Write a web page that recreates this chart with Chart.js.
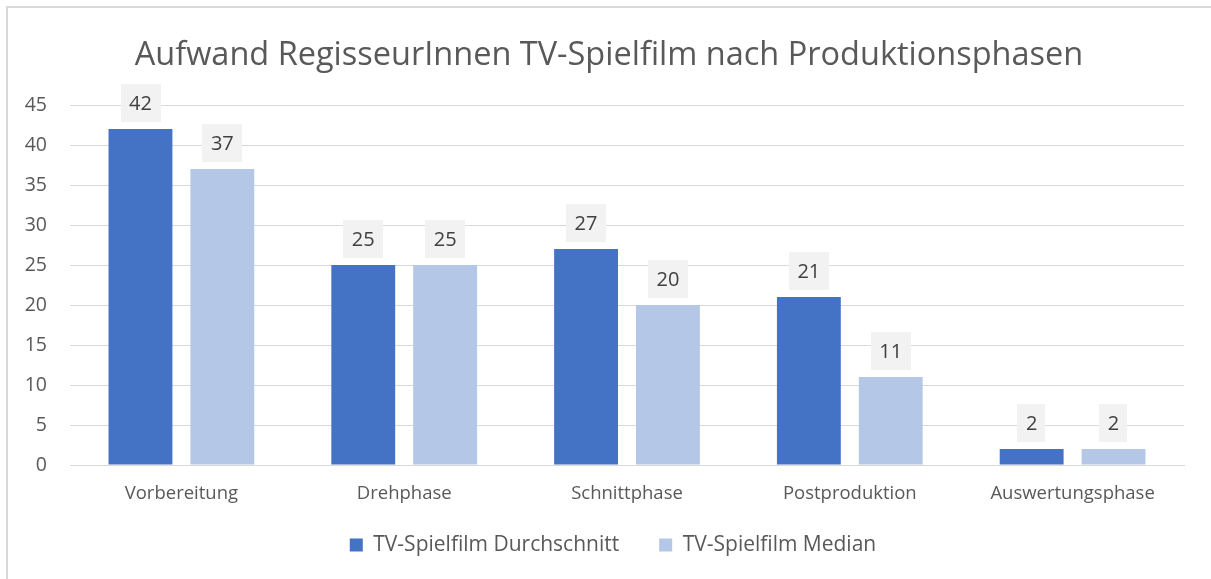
<!DOCTYPE html>
<html>
<head>
<meta charset="utf-8">
<script src="https://cdn.jsdelivr.net/npm/chart.js@4.4.1/dist/chart.umd.min.js"></script>
<style>
  html, body { margin: 0; padding: 0; background: #ffffff; }
  #wrap { position: relative; width: 1211px; height: 579px; overflow: hidden; }
  #frame { position: absolute; left: 6px; top: 6px; width: 1220px; height: 600px; border: 2px solid #d9d9d9; box-sizing: border-box; }
  #box { position: absolute; left: 0; top: 0; width: 1211px; height: 579px; }
</style>
</head>
<body>
<div id="wrap">
  <div id="frame"></div>
  <div id="box"><canvas id="c"></canvas></div>
</div>
<script>
const chartTitle = 'Aufwand RegisseurInnen TV-Spielfilm nach Produktionsphasen';
const categories = ['Vorbereitung', 'Drehphase', 'Schnittphase', 'Postproduktion', 'Auswertungsphase'];
const seriesNames = ['TV-Spielfilm Durchschnitt', 'TV-Spielfilm Median'];
const durchschnitt = [42, 25, 27, 21, 2];
const median = [37, 25, 20, 11, 2];
const yTicks = [0, 5, 10, 15, 20, 25, 30, 35, 40, 45];

const FONT = '"Open Sans", sans-serif';

const dataLabels = {
  id: 'dataLabels',
  afterDatasetsDraw(chart) {
    const ctx = chart.ctx;
    ctx.save();
    ctx.font = '20px ' + FONT;
    ctx.textAlign = 'center';
    ctx.textBaseline = 'middle';
    chart.data.datasets.forEach((ds, i) => {
      const meta = chart.getDatasetMeta(i);
      meta.data.forEach((bar, j) => {
        const txt = String(ds.data[j]);
        const w = ctx.measureText(txt).width + 17;
        const h = 38;
        const bottom = bar.y - 7;
        ctx.fillStyle = '#f2f2f2';
        ctx.fillRect(Math.round(bar.x - w / 2), Math.round(bottom - h), Math.round(w), h);
        ctx.fillStyle = '#404040';
        ctx.fillText(txt, bar.x, bottom - h / 2 + 1);
      });
    });
    ctx.restore();
  }
};

const shiftBlocks = {
  id: 'shiftBlocks',
  afterLayout(chart) {
    if (chart.titleBlock) { chart.titleBlock.left += 17; chart.titleBlock.right += 17; }
    if (chart.legend) { chart.legend.left += 21; chart.legend.right += 21; }
  }
};

new Chart(document.getElementById('c'), {
  type: 'bar',
  data: {
    labels: categories,
    datasets: [
      { label: seriesNames[0], data: durchschnitt, backgroundColor: '#4472c4', categoryPercentage: 0.735, barPercentage: 0.78 },
      { label: seriesNames[1], data: median, backgroundColor: '#b4c7e7', categoryPercentage: 0.735, barPercentage: 0.78 }
    ]
  },
  options: {
    responsive: true,
    maintainAspectRatio: false,
    animation: false,
    layout: { padding: { left: 0, right: 27, top: 0, bottom: 13.5 } },
    plugins: {
      title: {
        display: true,
        text: chartTitle,
        color: '#595959',
        font: { family: FONT, size: 32.5, weight: 'normal' },
        padding: { top: 36, bottom: 30 }
      },
      legend: {
        display: true,
        position: 'bottom',
        labels: {
          color: '#595959',
          font: { family: FONT, size: 21 },
          boxWidth: 13,
          boxHeight: 13,
          padding: 40,
          useBorderRadius: false
        }
      },
      tooltip: { enabled: false }
    },
    scales: {
      x: {
        grid: { display: false, drawTicks: false },
        border: { display: true, color: '#d9d9d9', width: 1 },
        afterFit(scale) {
          scale.height = 29.5;
          scale._computeLabelArea = () => undefined;
        },
        ticks: { color: '#595959', font: { family: FONT, size: 18.5 }, padding: 18, maxRotation: 0 }
      },
      y: {
        min: 0,
        max: 45,
        afterBuildTicks(scale) { scale.ticks = yTicks.map(v => ({ value: v })); },
        afterFit(scale) { scale.width = 70; },
        grid: { color: '#d9d9d9', lineWidth: 1, drawTicks: false },
        border: { display: false },
        ticks: { color: '#595959', font: { family: FONT, size: 19.5 }, padding: 23 }
      }
    }
  },
  plugins: [dataLabels, shiftBlocks]
});
</script>
</body>
</html>
